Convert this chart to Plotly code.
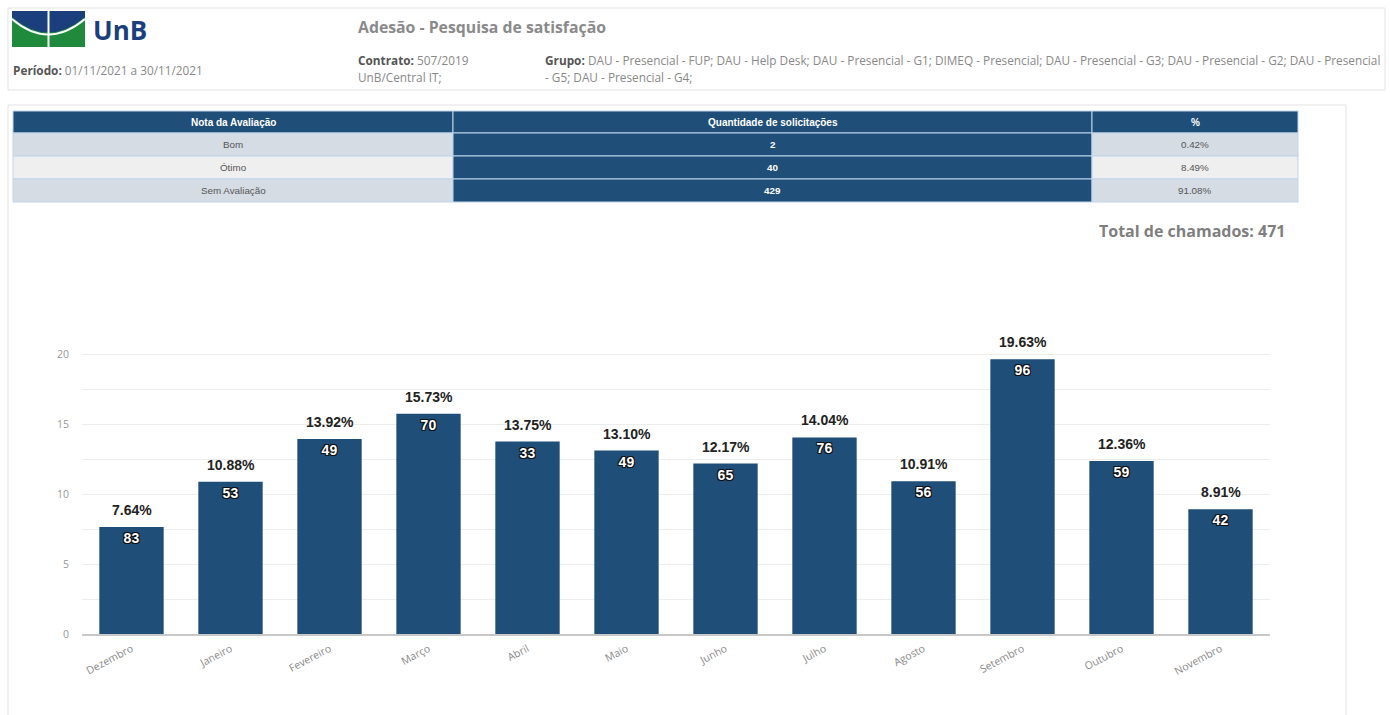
import plotly.graph_objects as go

W, H = 1390, 715

# ---------------- data ----------------
months = ["Dezembro", "Janeiro", "Fevereiro", "Março", "Abril", "Maio", "Junho",
          "Julho", "Agosto", "Setembro", "Outubro", "Novembro"]
percent = [7.64, 10.88, 13.92, 15.73, 13.75, 13.10, 12.17, 14.04, 10.91, 19.63, 12.36, 8.91]
counts = [83, 53, 49, 70, 33, 49, 65, 76, 56, 96, 59, 42]

table_notes = ["Bom", "Ótimo", "Sem Avaliação"]
table_qty = ["2", "40", "429"]
table_pct = ["0.42%", "8.49%", "91.08%"]
table_header = ["Nota da Avaliação", "Quantidade de solicitações", "%"]
total_chamados = 471

BLUE = "#1F4E79"
LIGHT1 = "#D6DCE4"
LIGHT2 = "#EFEFEF"
SEP = "#BFD4EA"


def px(x):
    return x / W


def py(y):
    return 1 - y / H


fig = go.Figure()

# ---------------- bar chart ----------------
fig.add_trace(go.Bar(
    x=months, y=percent,
    marker=dict(color=BLUE, line=dict(width=0)),
    width=0.65,
    text=[f"<b>{c}</b>" for c in counts],
    textposition="inside",
    insidetextanchor="end",
    textangle=0,
    textfont=dict(family="Arial, Liberation Sans", size=14, color="white",
                  shadow="1px 1px 0 #111, -1px -1px 0 #111, 1px -1px 0 #111, -1px 1px 0 #111"),
    constraintext="none",
    hoverinfo="skip",
    showlegend=False,
))

annotations = []
shapes = []

# percent labels above the bars
for m, p in zip(months, percent):
    annotations.append(dict(x=m, y=p, xref="x", yref="y", text=f"<b>{p:.2f}%</b>",
                            showarrow=False, xanchor="center", yanchor="middle", yshift=17,
                            font=dict(family="Arial, Liberation Sans", size=14, color="#222222")))

# ---------------- table (shapes + text) ----------------
col_edges = [13, 453, 1092, 1298]
row_edges = [111, 133, 156, 179, 202]
col_fills = [[LIGHT1, LIGHT2, LIGHT1], [BLUE] * 3, [LIGHT1, LIGHT2, LIGHT1]]
col_font = ["#555555", "white", "#555555"]
columns = [table_notes, table_qty, table_pct]
TFONT = "Liberation Sans, Arial"

for ci in range(3):
    x0, x1 = col_edges[ci], col_edges[ci + 1]
    shapes.append(dict(type="rect", xref="paper", yref="paper",
                       x0=px(x0), x1=px(x1), y0=py(row_edges[1]), y1=py(row_edges[0]),
                       line=dict(color=SEP, width=1), fillcolor=BLUE, layer="below"))
    annotations.append(dict(x=px((x0 + x1) / 2), y=py((row_edges[0] + row_edges[1]) / 2),
                            xref="paper", yref="paper", showarrow=False,
                            xanchor="center", yanchor="middle",
                            text=f"<b>{table_header[ci]}</b>",
                            font=dict(family=TFONT, size=10, color="white")))
    for ri in range(3):
        y0, y1 = row_edges[ri + 1], row_edges[ri + 2]
        shapes.append(dict(type="rect", xref="paper", yref="paper",
                           x0=px(x0), x1=px(x1), y0=py(y1), y1=py(y0),
                           line=dict(color=SEP, width=1), fillcolor=col_fills[ci][ri],
                           layer="below"))
        txt = columns[ci][ri]
        if ci == 1:
            txt = f"<b>{txt}</b>"
        annotations.append(dict(x=px((x0 + x1) / 2), y=py((y0 + y1) / 2),
                                xref="paper", yref="paper", showarrow=False, text=txt,
                                xanchor="center", yanchor="middle",
                                font=dict(family=TFONT, size=9.8, color=col_font[ci])))

# header box and panel box
shapes.append(dict(type="rect", xref="paper", yref="paper",
                   x0=px(8), x1=px(1385), y0=py(90), y1=py(8),
                   line=dict(color="#E3E3E3", width=1), fillcolor="rgba(0,0,0,0)", layer="below"))
shapes.append(dict(type="rect", xref="paper", yref="paper",
                   x0=px(8), x1=px(1346), y0=-0.05, y1=py(105),
                   line=dict(color="#E3E3E3", width=1), fillcolor="rgba(0,0,0,0)", layer="below"))

# UnB logo
LOGO_BLUE = "#1B3F7C"
LOGO_GREEN = "#1F8A3B"
shapes.append(dict(type="rect", xref="paper", yref="paper",
                   x0=px(12), x1=px(85), y0=py(47), y1=py(11),
                   line=dict(width=0), fillcolor=LOGO_GREEN))


def P(x, y):
    return f"{px(x):.5f},{py(y):.5f}"


blue_path = ("M " + P(12, 11) + " L " + P(85, 11) + " L " + P(85, 17) +
             " Q " + P(48, 48) + " " + P(12, 17) + " Z")
shapes.append(dict(type="path", xref="paper", yref="paper", path=blue_path,
                   line=dict(width=0), fillcolor=LOGO_BLUE))
curve = "M " + P(12, 19) + " Q " + P(48, 50) + " " + P(85, 19)
shapes.append(dict(type="path", xref="paper", yref="paper", path=curve,
                   line=dict(color="white", width=2), fillcolor="rgba(0,0,0,0)"))
shapes.append(dict(type="line", xref="paper", yref="paper",
                   x0=px(48.5), x1=px(48.5), y0=py(47), y1=py(11),
                   line=dict(color="white", width=2)))

FONT = "Open Sans, Arial"
HS = 11.8
annotations.append(dict(text="<b>UnB</b>", x=px(91), y=py(30), xref="paper", yref="paper",
                        xanchor="left", yanchor="middle", showarrow=False,
                        font=dict(family=FONT, size=26, color=LOGO_BLUE)))
annotations.append(dict(text="<b>Período:</b> <span style='color:#888'>01/11/2021 a 30/11/2021</span>",
                        x=px(11), y=py(70), xref="paper", yref="paper",
                        xanchor="left", yanchor="middle", showarrow=False,
                        font=dict(family=FONT, size=HS, color="#555555")))
annotations.append(dict(text="<b>Adesão - Pesquisa de satisfação</b>",
                        x=px(356), y=py(27), xref="paper", yref="paper",
                        xanchor="left", yanchor="middle", showarrow=False,
                        font=dict(family=FONT, size=15.8, color="#8A8A8A")))
annotations.append(dict(text="<b>Contrato:</b> <span style='color:#888'>507/2019</span>",
                        x=px(356), y=py(60), xref="paper", yref="paper",
                        xanchor="left", yanchor="middle", showarrow=False,
                        font=dict(family=FONT, size=HS, color="#555555")))
annotations.append(dict(text="UnB/Central IT;",
                        x=px(356), y=py(77), xref="paper", yref="paper",
                        xanchor="left", yanchor="middle", showarrow=False,
                        font=dict(family=FONT, size=HS, color="#888888")))
annotations.append(dict(text="<b>Grupo:</b> <span style='color:#888'>DAU - Presencial - FUP; DAU - Help Desk; DAU - Presencial - G1; DIMEQ - Presencial; DAU - Presencial - G3; DAU - Presencial - G2; DAU - Presencial</span>",
                        x=px(543), y=py(60), xref="paper", yref="paper",
                        xanchor="left", yanchor="middle", showarrow=False,
                        font=dict(family=FONT, size=HS, color="#555555")))
annotations.append(dict(text="- G5; DAU - Presencial - G4;",
                        x=px(543), y=py(77), xref="paper", yref="paper",
                        xanchor="left", yanchor="middle", showarrow=False,
                        font=dict(family=FONT, size=HS, color="#888888")))
annotations.append(dict(text=f"<b>Total de chamados: {total_chamados}</b>",
                        x=px(1287), y=py(231), xref="paper", yref="paper",
                        xanchor="right", yanchor="middle", showarrow=False,
                        font=dict(family=FONT, size=16, color="#7F7F7F")))

fig.update_layout(
    width=W, height=H,
    margin=dict(l=0, r=0, t=0, b=0, autoexpand=False),
    paper_bgcolor="white", plot_bgcolor="white",
    shapes=shapes, annotations=annotations,
    showlegend=False,
    xaxis=dict(domain=[px(82), px(1270)], showgrid=False, tickangle=-28,
               tickfont=dict(family=FONT, size=10.5, color="#888888"),
               showline=True, linecolor="#C8C8C8", linewidth=1.5,
               ticks="outside", ticklen=3, tickcolor="rgba(0,0,0,0)",
               automargin=False, fixedrange=True),
    yaxis=dict(domain=[py(634), py(340)], range=[0, 21],
               tickvals=[0, 5, 10, 15, 20],
               tickfont=dict(family=FONT, size=10.5, color="#999999"),
               showgrid=False, zeroline=False, ticks="", ticklabelstandoff=12,
               automargin=False, fixedrange=True),
)
fig.update_yaxes(minor=dict(tickvals=[2.5, 5, 7.5, 10, 12.5, 15, 17.5, 20],
                            showgrid=True, gridcolor="#EDEDED", gridwidth=1))

fig.write_html("out.html")
